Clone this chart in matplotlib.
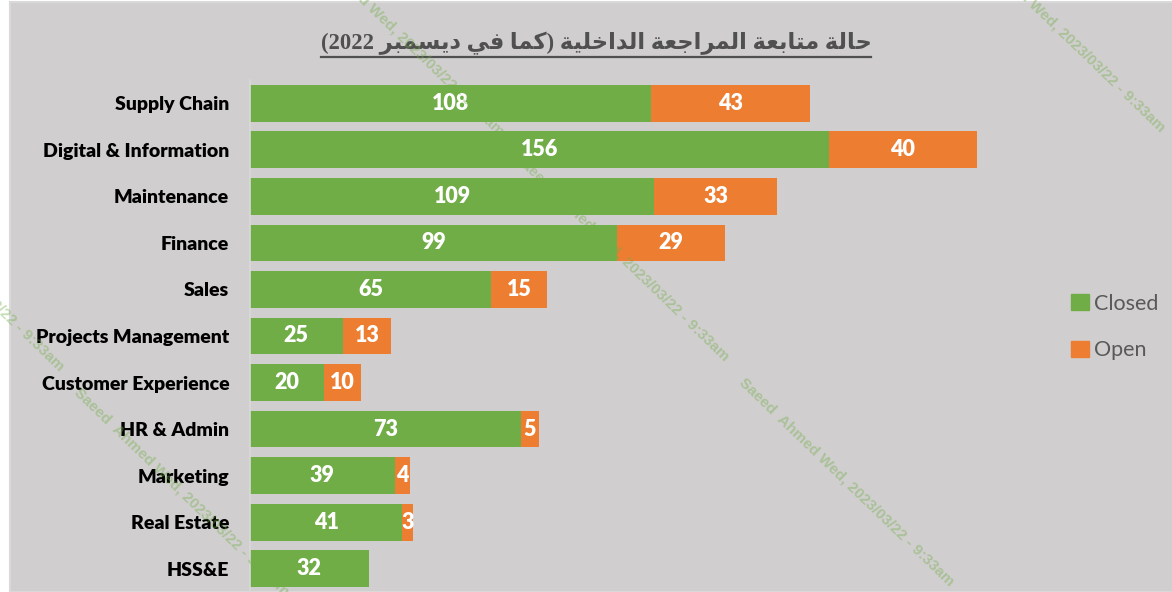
import re
import matplotlib
matplotlib.use("Agg")
import matplotlib.pyplot as plt
from matplotlib.patches import Patch, Rectangle
from matplotlib.lines import Line2D

# data
categories = ["Supply Chain", "Digital & Information", "Maintenance", "Finance", "Sales",
              "Projects Management", "Customer Experience", "HR & Admin", "Marketing",
              "Real Estate", "HSS&E"]
closed = [108, 156, 109, 99, 65, 25, 20, 73, 39, 41, 32]
open_ = [43, 40, 33, 29, 15, 13, 10, 5, 4, 3, 0]
title = "حالة متابعة المراجعة الداخلية (كما في ديسمبر 2022)"
watermark = "Saeed  Ahmed Wed, 2023/03/22 - 9:33am"

GREEN = "#70AD47"
ORANGE = "#ED7D31"
BG = "#D0CECE"

# matplotlib has no arabic shaping, so pick the presentation forms by hand
# (isolated, final, initial, medial); two forms = right-joining only
forms = {
    "ا": (0xFE8D, 0xFE8E), "ب": (0xFE8F, 0xFE90, 0xFE91, 0xFE92),
    "ة": (0xFE93, 0xFE94), "ت": (0xFE95, 0xFE96, 0xFE97, 0xFE98),
    "ج": (0xFE9D, 0xFE9E, 0xFE9F, 0xFEA0), "ح": (0xFEA1, 0xFEA2, 0xFEA3, 0xFEA4),
    "خ": (0xFEA5, 0xFEA6, 0xFEA7, 0xFEA8), "د": (0xFEA9, 0xFEAA),
    "ر": (0xFEAD, 0xFEAE), "س": (0xFEB1, 0xFEB2, 0xFEB3, 0xFEB4),
    "ع": (0xFEC9, 0xFECA, 0xFECB, 0xFECC), "ف": (0xFED1, 0xFED2, 0xFED3, 0xFED4),
    "ك": (0xFED9, 0xFEDA, 0xFEDB, 0xFEDC), "ل": (0xFEDD, 0xFEDE, 0xFEDF, 0xFEE0),
    "م": (0xFEE1, 0xFEE2, 0xFEE3, 0xFEE4), "ي": (0xFEF1, 0xFEF2, 0xFEF3, 0xFEF4),
}


def shape_rtl(s):
    out = []
    for i, ch in enumerate(s):
        if ch not in forms:
            out.append(ch)
            continue
        f = forms[ch]
        prev = s[i - 1] if i > 0 else ""
        nxt = s[i + 1] if i + 1 < len(s) else ""
        jp = prev in forms and len(forms[prev]) == 4
        jn = len(f) == 4 and nxt in forms
        if jp and jn:
            out.append(chr(f[3]))
        elif jp:
            out.append(chr(f[1]))
        elif jn:
            out.append(chr(f[2]))
        else:
            out.append(chr(f[0]))
    vis = "".join(out)[::-1]
    vis = re.sub(r"\d+", lambda m: m.group(0)[::-1], vis)
    vis = vis.translate(str.maketrans("()", ")("))
    return vis


W, H = 1172, 592
fig = plt.figure(figsize=(W / 100, H / 100), dpi=100, facecolor="white")
fig.add_artist(Rectangle((10 / W, 0), 1, 1 - 2 / H, transform=fig.transFigure,
                         facecolor=BG, edgecolor="#D9D9D9", lw=1.5, zorder=-10))

ax = fig.add_axes([250 / W, 0, 742 / W, 512 / H])
ax.set_facecolor("none")
y = list(range(len(categories)))
ax.barh(y, closed, height=0.79, color=GREEN, label="Closed")
ax.barh(y, open_, left=closed, height=0.79, color=ORANGE, label="Open")
ax.set_xlim(0, 200)
ax.set_ylim(len(categories) - 0.5, -0.5)
ax.set_yticks(y)
ax.set_yticklabels(categories, fontfamily="Lato", fontweight="heavy", fontsize=14)
ax.tick_params(axis="y", length=0, pad=15)
ax.set_xticks([])
for s in ["top", "right", "bottom"]:
    ax.spines[s].set_visible(False)
ax.spines["left"].set_color("#D9D9D9")
ax.spines["left"].set_linewidth(1.2)

for i in y:
    ax.text(closed[i] / 2, i, str(closed[i]), ha="center", va="center", color="white",
            fontfamily="Lato", fontweight="heavy", fontsize=15.5)
    if open_[i] > 0:
        ax.text(closed[i] + open_[i] / 2, i, str(open_[i]), ha="center", va="center",
                color="white", fontfamily="Lato", fontweight="heavy", fontsize=15.5)

handles = [Patch(color=GREEN), Patch(color=ORANGE)]
leg = fig.legend(handles, ["Closed", "Open"], loc="center left",
                 bbox_to_anchor=(1052 / W, 1 - 327 / H), frameon=False,
                 handlelength=0.8, handleheight=0.8, handletextpad=0.25,
                 labelspacing=1.25, prop={"family": "Lato", "size": 15.5})
for t in leg.get_texts():
    t.set_color("#595959")

ttl = fig.text(596 / W, 1 - 43 / H, shape_rtl(title), ha="center", va="center",
               fontsize=16.3, fontweight="bold", color="#505050",
               family=["Liberation Serif", "DejaVu Sans"])
fig.canvas.draw()
bb = ttl.get_window_extent()
fig.add_artist(Line2D([bb.x0 / W, bb.x1 / W], [1 - 57 / H] * 2, transform=fig.transFigure,
                      color="#505050", lw=1.6))

# diagonal watermark
for cx, cy in [(-43, 267), (182, 492), (397, 32), (622, 257), (847, 482), (1058, 28)]:
    fig.text(cx / W, 1 - cy / H, watermark, rotation=-44, rotation_mode="anchor",
             ha="center", va="center", fontsize=11, family="Liberation Sans",
             fontweight="bold", color=GREEN, alpha=0.4, zorder=20)

fig.savefig("out.png", dpi=100, facecolor=fig.get_facecolor())
